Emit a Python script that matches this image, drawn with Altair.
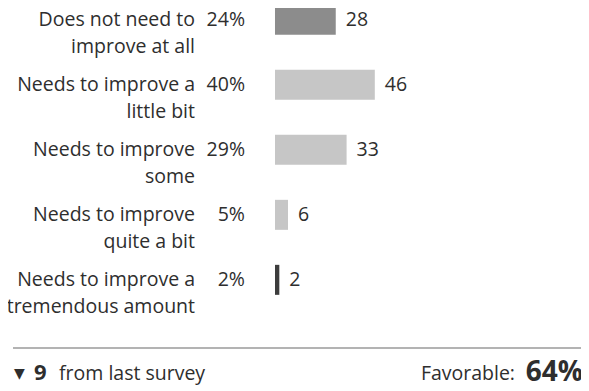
import altair as alt
import pandas as pd

line1 = ["Does not need to", "Needs to improve a", "Needs to improve", "Needs to improve", "Needs to improve a"]
line2 = ["improve at all", "little bit", "some", "quite a bit", "tremendous amount"]
pct_labels = ["24%", "40%", "29%", "5%", "2%"]
counts = [28, 46, 33, 6, 2]
bar_colors = ["#8c8c8c", "#c6c6c6", "#c6c6c6", "#c6c6c6", "#3d3d3d"]

footer_change = "9"
footer_text = "from last survey"
favorable_label = "Favorable:"
favorable_value = "64%"

df = pd.DataFrame({
    "row": list(range(len(counts))),
    "line1": line1,
    "line2": line2,
    "pct": pct_labels,
    "count": counts,
    "color": bar_colors,
})

FONT = "Open Sans"
TXT = "#2e2e2e"
FS = 19.5

H = 382
xs = alt.Scale(domain=[-123.04, 141.02], nice=False, zero=False)
ys = alt.Scale(domain=[-0.105, -0.105 + H / 66.75], nice=False, zero=False, reverse=True)

base = alt.Chart(df)
Y = alt.Y("row:Q", scale=ys, axis=None)

bars = base.mark_bar(orient="horizontal", size=30).encode(
    x=alt.X("count:Q", scale=xs, axis=None),
    x2=alt.datum(0),
    y=Y,
    color=alt.Color("color:N", scale=None),
)

count_text = base.mark_text(align="left", baseline="middle", dx=10, font=FONT, fontSize=FS, color=TXT).encode(
    x=alt.X("count:Q", scale=xs, axis=None), y=Y, text="count:Q"
)

pct_text = base.mark_text(align="right", baseline="middle", font=FONT, fontSize=FS, color=TXT).encode(
    x=alt.value(237), y=Y, text="pct:N"
)

lab1 = base.mark_text(align="right", baseline="middle", font=FONT, fontSize=FS, color=TXT).encode(
    x=alt.value(187), y=Y, text="line1:N"
)
lab2 = base.mark_text(align="right", baseline="middle", dy=27, font=FONT, fontSize=FS, color=TXT).encode(
    x=alt.value(187), y=Y, text="line2:N"
)

sep = alt.Chart(pd.DataFrame({"a": [0]})).mark_rule(color="#9a9a9a", strokeWidth=1.5).encode(
    x=alt.value(5), x2=alt.value(575), y=alt.value(340)
)

fdf = pd.DataFrame({"a": [0]})
tri = alt.Chart(fdf).mark_text(text="▼", align="left", baseline="alphabetic", font="DejaVu Sans", fontSize=14, color=TXT).encode(
    x=alt.value(6), y=alt.value(370)
)
nine = alt.Chart(fdf).mark_text(text=footer_change, align="left", baseline="alphabetic", font=FONT, fontSize=22, fontWeight="bold", color=TXT).encode(
    x=alt.value(26), y=alt.value(372)
)
ftxt = alt.Chart(fdf).mark_text(text=footer_text, align="left", baseline="alphabetic", font=FONT, fontSize=FS, color=TXT).encode(
    x=alt.value(51), y=alt.value(372)
)
fav_val = alt.Chart(fdf).mark_text(text=favorable_value, align="right", baseline="alphabetic", font=FONT, fontSize=28, fontWeight="bold", color=TXT).encode(
    x=alt.value(575), y=alt.value(373)
)
fav_lab = alt.Chart(fdf).mark_text(text=favorable_label, align="right", baseline="alphabetic", font=FONT, fontSize=FS, color=TXT).encode(
    x=alt.value(507), y=alt.value(372)
)

chart = alt.layer(bars, count_text, pct_text, lab1, lab2, sep, tri, nine, ftxt, fav_lab, fav_val).properties(
    width=573, height=H, autosize=alt.AutoSizeParams(type="none"), padding=0
).configure(background="white", view=alt.ViewConfig(stroke=None))

chart.save("out.html", embed_options={"renderer": "svg", "actions": False})
